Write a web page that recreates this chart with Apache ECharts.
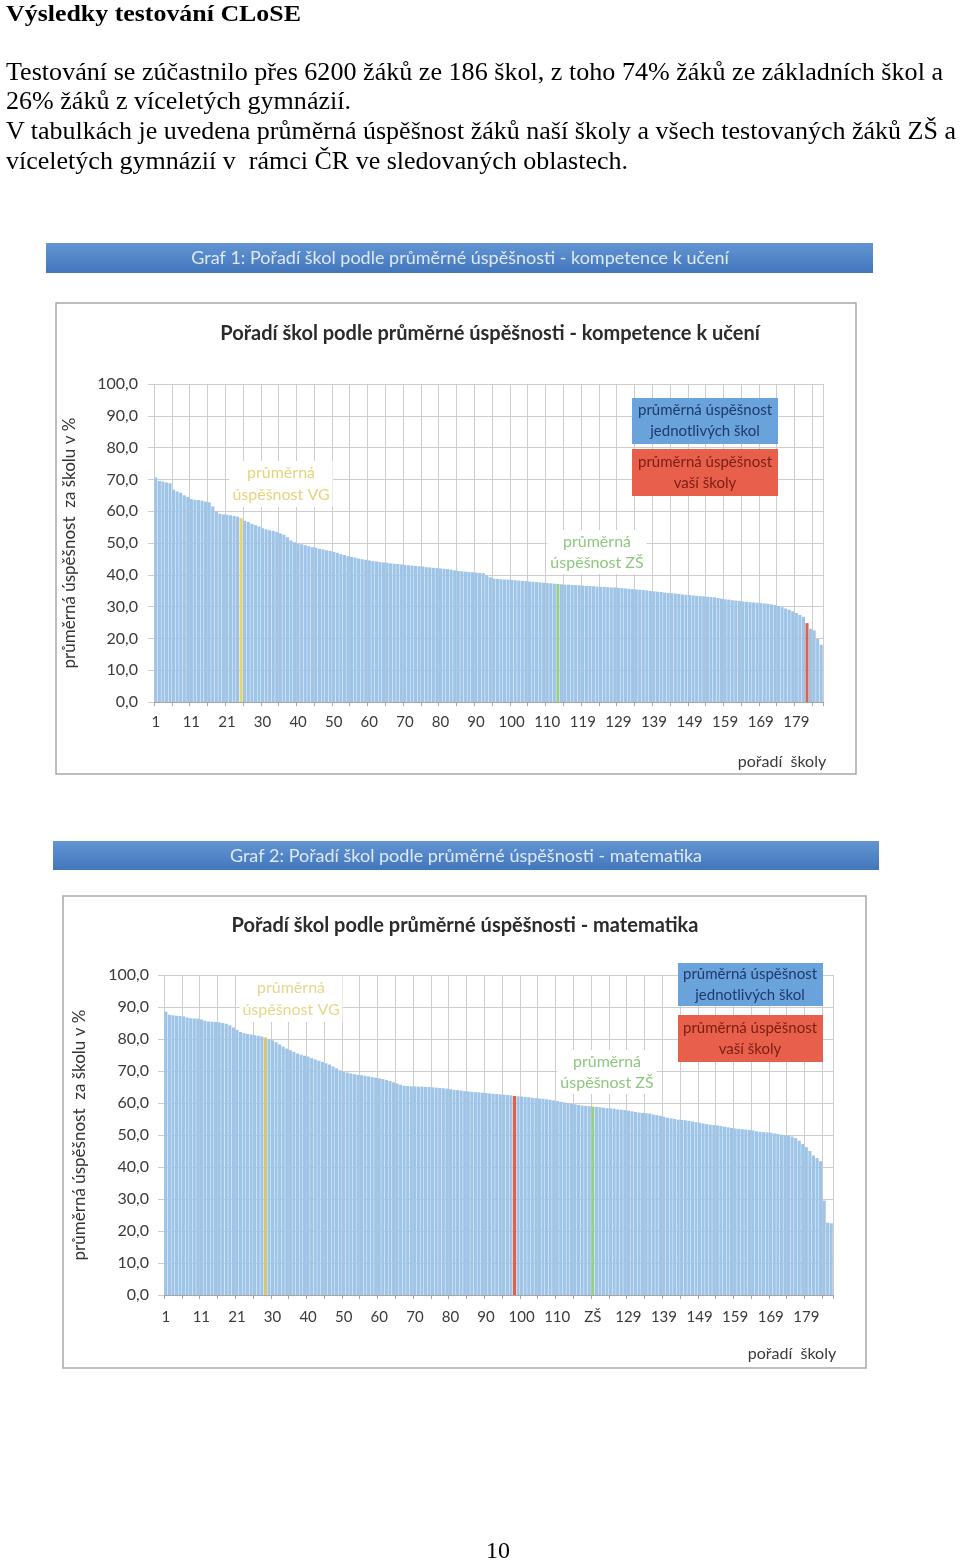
<!DOCTYPE html>
<html lang="cs">
<head>
<meta charset="utf-8">
<script src="https://cdn.jsdelivr.net/npm/echarts@6/dist/echarts.min.js"></script>
<style>
  html,body{margin:0;padding:0;background:#fff;}
  body{width:960px;height:1561px;position:relative;overflow:hidden;}
  #chart{position:absolute;left:0;top:0;width:960px;height:1561px;}
  .ln{position:absolute;left:6px;white-space:nowrap;font-family:"Liberation Serif","Times New Roman",serif;color:#000;z-index:5;transform-origin:0 0;display:inline-block;}
</style>
</head>
<body>
<div id="chart"></div>
<div class="ln" id="h" style="top:0px;font-size:23px;font-weight:bold;line-height:27px;">Výsledky testování CLoSE</div>
<div class="ln" id="l1" style="top:57px;font-size:25px;line-height:30px;">Testování se zúčastnilo přes 6200 žáků ze 186 škol, z toho 74% žáků ze základních škol a</div>
<div class="ln" id="l2" style="top:86px;font-size:25px;line-height:30px;">26% žáků z víceletých gymnázií.</div>
<div class="ln" id="l3" style="top:116px;font-size:25px;line-height:30px;">V tabulkách je uvedena průměrná úspěšnost žáků naší školy a všech testovaných žáků ZŠ a</div>
<div class="ln" id="l4" style="top:146px;font-size:25px;line-height:30px;">víceletých gymnázií v&nbsp; rámci ČR ve sledovaných oblastech.</div>
<div class="ln" id="pg" style="left:486px;top:1536px;font-size:24px;line-height:28px;">10</div>
<script>
// ---------- DATA ----------
// Graf 1: kompetence k učení (186 schools + VG average + ZŠ average), in displayed order
const scores1 = [
  70.6, 69.5, 69.3, 69.0, 68.8, 66.8, 66.2, 65.8, 65.0, 64.5,
  63.8, 63.6, 63.5, 63.3, 63.0, 62.8, 61.5, 60.0, 59.2, 59.0,
  58.9, 58.7, 58.5, 58.3, 57.8, 57.0, 56.6, 56.0, 55.6, 55.2,
  54.6, 54.3, 54.0, 53.8, 53.5, 53.0, 52.6, 51.8, 50.8, 50.2,
  49.8, 49.6, 49.3, 49.0, 48.7, 48.5, 48.2, 48.0, 47.7, 47.5,
  47.2, 46.9, 46.5, 46.2, 45.9, 45.6, 45.4, 45.1, 44.9, 44.7,
  44.5, 44.3, 44.2, 44.0, 43.9, 43.8, 43.6, 43.5, 43.4, 43.3,
  43.1, 43.0, 42.9, 42.8, 42.7, 42.6, 42.4, 42.3, 42.2, 42.1,
  42.0, 41.9, 41.8, 41.6, 41.4, 41.2, 41.1, 41.0, 40.9, 40.8,
  40.7, 40.6, 40.5, 39.8, 39.2, 38.8, 38.7, 38.6, 38.5, 38.5,
  38.4, 38.3, 38.2, 38.1, 38.0, 37.9, 37.8, 37.7, 37.6, 37.5,
  37.4, 37.3, 37.2, 37.1, 37.0, 36.9, 36.9, 36.8, 36.8, 36.7,
  36.6, 36.5, 36.5, 36.4, 36.3, 36.2, 36.2, 36.1, 36.0, 36.0,
  35.9, 35.8, 35.7, 35.6, 35.5, 35.4, 35.3, 35.2, 35.1, 34.9,
  34.8, 34.7, 34.6, 34.4, 34.3, 34.2, 34.1, 34.0, 33.8, 33.7,
  33.6, 33.5, 33.4, 33.3, 33.2, 33.1, 33.0, 32.9, 32.7, 32.5,
  32.3, 32.2, 32.0, 31.9, 31.8, 31.6, 31.5, 31.4, 31.3, 31.2,
  31.1, 31.0, 30.9, 30.7, 30.5, 30.2, 29.8, 29.4, 29.0, 28.5,
  28.0, 27.4, 26.8, 24.8, 23.0, 22.5, 19.8, 18.0
];
const vgPos1 = 24;      // position of "průměrná úspěšnost VG" bar
const zsPos1 = 113;     // position of "průměrná úspěšnost ZŠ" bar
const ourPos1 = 183;    // position of "vaše škola" bar

// Graf 2: matematika
const scores2 = [
  88.5, 87.6, 87.4, 87.3, 87.2, 87.0, 86.7, 86.5, 86.4, 86.3,
  86.1, 85.7, 85.5, 85.4, 85.3, 85.2, 85.0, 84.8, 84.3, 83.6,
  82.8, 82.2, 81.8, 81.6, 81.4, 81.2, 81.0, 80.8, 80.5, 80.0,
  79.6, 79.0, 78.3, 77.6, 77.0, 76.5, 76.0, 75.5, 75.1, 74.8,
  74.5, 74.0, 73.6, 73.2, 72.8, 72.4, 72.0, 71.4, 70.8, 70.2,
  69.8, 69.5, 69.2, 69.0, 68.8, 68.7, 68.5, 68.3, 68.1, 67.9,
  67.7, 67.5, 67.2, 66.9, 66.5, 66.1, 65.7, 65.4, 65.3, 65.2,
  65.2, 65.1, 65.1, 65.0, 65.0, 64.9, 64.8, 64.7, 64.6, 64.5,
  64.3, 64.1, 64.0, 63.9, 63.7, 63.6, 63.5, 63.4, 63.3, 63.2,
  63.1, 63.0, 62.9, 62.8, 62.7, 62.6, 62.5, 62.4, 62.2, 62.1,
  62.0, 61.9, 61.8, 61.6, 61.5, 61.4, 61.3, 61.2, 61.0, 60.8,
  60.6, 60.4, 60.2, 60.0, 59.8, 59.6, 59.4, 59.2, 59.1, 59.0,
  58.9, 58.8, 58.7, 58.5, 58.4, 58.3, 58.2, 58.0, 57.9, 57.8,
  57.6, 57.4, 57.2, 57.0, 56.9, 56.8, 56.7, 56.4, 56.2, 56.0,
  55.7, 55.4, 55.2, 55.0, 54.8, 54.7, 54.6, 54.4, 54.2, 54.0,
  53.8, 53.6, 53.4, 53.2, 53.1, 53.0, 52.8, 52.6, 52.4, 52.2,
  52.0, 51.9, 51.8, 51.7, 51.6, 51.4, 51.2, 51.0, 50.9, 50.8,
  50.7, 50.5, 50.3, 50.1, 50.0, 49.8, 49.5, 49.0, 48.2, 47.2,
  46.2, 45.0, 43.6, 42.8, 41.8, 29.5, 22.6, 22.4
];
const vgPos2 = 28;
const zsPos2 = 120;
const ourPos2 = 98;

const yTicks = [0, 10, 20, 30, 40, 50, 60, 70, 80, 90, 100];
const vgLabel = 'VG';
const zsLabel = 'ZŠ';

// ---------- BUILD ----------
function buildCategories(n, vgPos, zsPos) {
  const cats = [];
  let rank = 1;
  for (let i = 0; i < n; i++) {
    if (i === vgPos) cats.push(vgLabel);
    else if (i === zsPos) cats.push(zsLabel);
    else cats.push(String(rank++));
  }
  return cats;
}
const COL_BAR = '#9ec4e8', COL_VG = '#e2d67a', COL_VG2 = '#d3c67c', COL_ZS = '#98d08a', COL_OUR = '#e0604e';
function buildData(vals, vgPos, zsPos, ourPos, vgCol) {
  return vals.map((v, i) => {
    let c = COL_BAR;
    if (i === vgPos) c = vgCol; else if (i === zsPos) c = COL_ZS; else if (i === ourPos) c = COL_OUR;
    return { value: v, itemStyle: { color: c } };
  });
}
const cats1 = buildCategories(scores1.length, vgPos1, zsPos1);
const cats2 = buildCategories(scores2.length, vgPos2, zsPos2);

const FONT = 'Lato, "Noto Sans", sans-serif';
const GRID_COL = '#cdcdcd';
const LBL_COL = '#3a3a3a';

function xAxisFor(gi, cats, margin) {
  return {
    type: 'category', gridIndex: gi, data: cats, boundaryGap: true,
    axisLine: { show: true, lineStyle: { color: '#a6a6a6', width: 1 } },
    axisTick: { show: true, interval: 4, length: 4, lineStyle: { color: '#a6a6a6' } },
    axisLabel: { interval: 9, color: LBL_COL, fontFamily: FONT, fontSize: 15, margin: margin },
    splitLine: { show: true, interval: 4, lineStyle: { color: GRID_COL, width: 1 } }
  };
}
function yAxisFor(gi, nameGap, margin) {
  return {
    type: 'value', gridIndex: gi, min: yTicks[0], max: yTicks[yTicks.length - 1], interval: 10,
    name: 'průměrná úspěšnost  za školu v %', nameLocation: 'middle', nameRotate: 90, nameGap: nameGap,
    nameTextStyle: { color: '#333', fontFamily: FONT, fontSize: 17 },
    axisLine: { show: false },
    axisTick: { show: true, length: 6, lineStyle: { color: GRID_COL } },
    axisLabel: { color: LBL_COL, fontFamily: FONT, fontSize: 16, margin: margin,
      formatter: v => v.toFixed(1).replace('.', ',') },
    splitLine: { show: true, lineStyle: { color: GRID_COL, width: 1 } }
  };
}

const bannerFill = () => new echarts.graphic.LinearGradient(0, 0, 0, 1, [
  { offset: 0, color: '#6395d3' }, { offset: 1, color: '#4276bd' }]);

function txt(x, y, text, font, fill, extra) {
  return Object.assign({ type: 'text', x: x, y: y, z: 100,
    style: Object.assign({ text: text, font: font, fill: fill, align: 'center', verticalAlign: 'middle' }, extra || {}) });
}

const graphics = [
  // --- Graf 1 ---
  { type: 'rect', z: 1, shape: { x: 46, y: 243, width: 827, height: 30 }, style: { fill: bannerFill() } },
  txt(460, 258, 'Graf 1: Pořadí škol podle průměrné úspěšnosti - kompetence k učení', '18px ' + FONT, '#dfe8f5'),
  { type: 'rect', z: 1, shape: { x: 56, y: 303, width: 800, height: 471 }, style: { fill: 'none', stroke: '#a8a8a8', lineWidth: 1.5 } },
  txt(490, 334, 'Pořadí škol podle průměrné úspěšnosti - kompetence k učení', 'bold 20px ' + FONT, '#2b2b2b'),
  { type: 'rect', z: 90, shape: { x: 632, y: 398, width: 146, height: 46 }, style: { fill: '#6aa3dc' } },
  txt(705, 421, 'průměrná úspěšnost\njednotlivých škol', '15px ' + FONT, '#1d3a6b', { lineHeight: 21 }),
  { type: 'rect', z: 90, shape: { x: 632, y: 449, width: 146, height: 47 }, style: { fill: '#e8604c' } },
  txt(705, 473, 'průměrná úspěšnost\nvaší školy', '15px ' + FONT, '#7a1d12', { lineHeight: 21 }),
  txt(281, 484, 'průměrná\núspěšnost VG', '16px ' + FONT, '#e3d57c', { lineHeight: 22, backgroundColor: '#fff', padding: [1, 3] }),
  txt(597, 552, 'průměrná\núspěšnost ZŠ', '16px ' + FONT, '#8ec77e', { lineHeight: 21, backgroundColor: '#fff', padding: [1, 3] }),
  txt(782, 762, 'pořadí  školy', '16px ' + FONT, LBL_COL),

  // --- Graf 2 ---
  { type: 'rect', z: 1, shape: { x: 53, y: 841, width: 826, height: 29 }, style: { fill: bannerFill() } },
  txt(466, 856, 'Graf 2: Pořadí škol podle průměrné úspěšnosti - matematika', '18px ' + FONT, '#dfe8f5'),
  { type: 'rect', z: 1, shape: { x: 63, y: 896, width: 803, height: 472 }, style: { fill: 'none', stroke: '#a8a8a8', lineWidth: 1.5 } },
  txt(465, 926, 'Pořadí škol podle průměrné úspěšnosti - matematika', 'bold 20px ' + FONT, '#2b2b2b'),
  { type: 'rect', z: 90, shape: { x: 678, y: 963, width: 145, height: 43 }, style: { fill: '#6aa3dc' } },
  txt(750, 985, 'průměrná úspěšnost\njednotlivých škol', '15px ' + FONT, '#1d3a6b', { lineHeight: 21 }),
  { type: 'rect', z: 90, shape: { x: 678, y: 1015, width: 145, height: 47 }, style: { fill: '#e8604c' } },
  txt(750, 1039, 'průměrná úspěšnost\nvaší školy', '15px ' + FONT, '#7a1d12', { lineHeight: 21 }),
  txt(291, 999, 'průměrná\núspěšnost VG', '16px ' + FONT, '#e3d88c', { lineHeight: 22, backgroundColor: '#fff', padding: [1, 3] }),
  txt(607, 1072, 'průměrná\núspěšnost ZŠ', '16px ' + FONT, '#8ec77e', { lineHeight: 21, backgroundColor: '#fff', padding: [1, 3] }),
  txt(792, 1354, 'pořadí  školy', '16px ' + FONT, LBL_COL)
];

const chart = echarts.init(document.getElementById('chart'), null, { renderer: 'canvas' });
chart.setOption({
  animation: false,
  backgroundColor: '#ffffff',
  grid: [
    { left: 154, top: 384, width: 669, height: 318, containLabel: false },
    { left: 164, top: 975, width: 669, height: 320, containLabel: false }
  ],
  xAxis: [xAxisFor(0, cats1, 13), xAxisFor(1, cats2, 15)],
  yAxis: [yAxisFor(0, 76, 16), yAxisFor(1, 76, 15)],
  series: [
    { type: 'bar', xAxisIndex: 0, yAxisIndex: 0, barCategoryGap: '12%', z: 3,
      data: buildData(scores1, vgPos1, zsPos1, ourPos1, COL_VG) },
    { type: 'bar', xAxisIndex: 1, yAxisIndex: 1, barCategoryGap: '12%', z: 3,
      data: buildData(scores2, vgPos2, zsPos2, ourPos2, COL_VG2) }
  ],
  graphic: graphics
});

// fit document text lines to the widths of the reference page
function fit(id, target) {
  const el = document.getElementById(id);
  const w = el.getBoundingClientRect().width;
  if (w > 0) el.style.transform = 'scaleX(' + (target / w) + ')';
}
fit('h', 295); fit('l1', 937); fit('l2', 345); fit('l3', 950); fit('l4', 622);
</script>
</body>
</html>
